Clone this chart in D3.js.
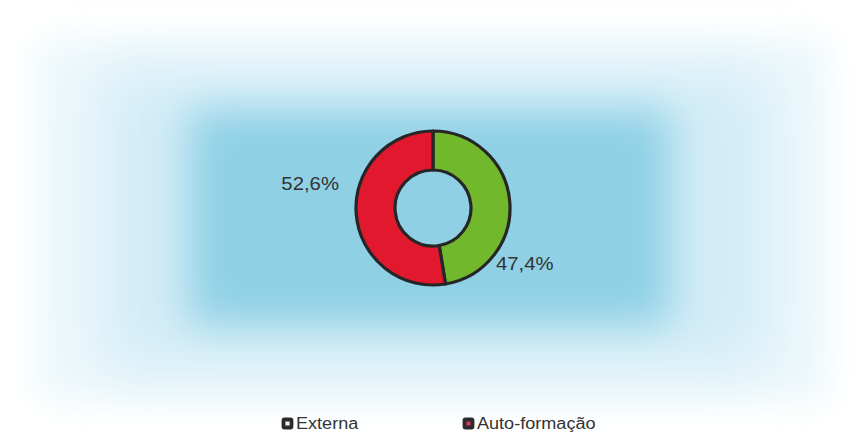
<!DOCTYPE html>
<html>
<head>
<meta charset="utf-8">
<script src="https://cdn.jsdelivr.net/npm/d3@7"></script>
<style>
  html, body { margin: 0; padding: 0; background: #ffffff; }
  svg { display: block; }
  text { font-family: "Liberation Sans", Arial, sans-serif; fill: #333333; }
</style>
</head>
<body>
<svg id="chart" width="857" height="434"></svg>
<script>
// Training type shares (percent)
const categories = ["Externa", "Auto-formação"];
const values = [47.4, 52.6];
const valueLabels = ["47,4%", "52,6%"];
const colors = ["#72b82c", "#e2182e"];
const legendSwatchInner = ["#f2f2f2", "#d8385a"];

const W = 857, H = 434;
const svg = d3.select("#chart");
const defs = svg.append("defs");

// soft blue backdrop behind the donut
[["soft1", 16], ["soft2", 30], ["soft3", 20]].forEach(([id, sd]) => {
  defs.append("filter").attr("id", id)
    .attr("x", "-40%").attr("y", "-40%").attr("width", "180%").attr("height", "180%")
    .append("feGaussianBlur").attr("stdDeviation", sd);
});

const bg = svg.append("g");
bg.append("rect").attr("x", 35).attr("y", 40).attr("width", 795).attr("height", 360)
  .attr("fill", "#eef8fb").attr("filter", "url(#soft1)");
bg.append("rect").attr("x", 100).attr("y", 70).attr("width", 670).attr("height", 300)
  .attr("fill", "#d2ecf7").attr("filter", "url(#soft2)");
bg.append("rect").attr("x", 190).attr("y", 110).attr("width", 480).attr("height", 215)
  .attr("fill", "#8fd0e5").attr("filter", "url(#soft3)");

// donut
const cx = 433, cy = 208;
const outerR = 77, innerR = 38;
const pie = d3.pie().sort(null).value(d => d);
const arcs = pie(values);
const arc = d3.arc().innerRadius(innerR).outerRadius(outerR);

const g = svg.append("g").attr("transform", `translate(${cx},${cy})`);
g.selectAll("path.slice").data(arcs).enter().append("path")
  .attr("class", "slice")
  .attr("d", arc)
  .attr("fill", (d, i) => colors[i])
  .attr("stroke", "#262626")
  .attr("stroke-width", 3.2)
  .attr("stroke-linejoin", "round");

// outside labels, placed along each slice
const labelSpec = [
  { frac: 0.77, r: 84, anchor: "start" },
  { frac: 0.60, r: 97, anchor: "end" }
];
g.selectAll("text.val").data(arcs).enter().append("text")
  .attr("class", "val")
  .each(function (d, i) {
    const s = labelSpec[i];
    const a = d.startAngle + (d.endAngle - d.startAngle) * s.frac;
    const x = Math.sin(a) * s.r;
    const y = -Math.cos(a) * s.r;
    d3.select(this)
      .attr("transform", `translate(${x},${y}) scale(1.13,1)`)
      .attr("text-anchor", s.anchor)
      .attr("dy", "0.35em")
      .attr("font-size", 18)
      .text(valueLabels[i]);
  });

// legend
const legendX = d3.scalePoint().domain(categories).range([282, 463]);
const leg = svg.append("g");
categories.forEach((c, i) => {
  const x = legendX(c);
  leg.append("rect").attr("x", x + 1.5).attr("y", 419.5).attr("width", 8).attr("height", 8)
    .attr("rx", 1)
    .attr("fill", legendSwatchInner[i]).attr("stroke", "#2b2b2b").attr("stroke-width", 3.8);
  leg.append("text")
    .attr("transform", `translate(${x + 14},429) scale(1.13,1)`)
    .attr("font-size", 16)
    .text(c);
});
</script>
</body>
</html>
